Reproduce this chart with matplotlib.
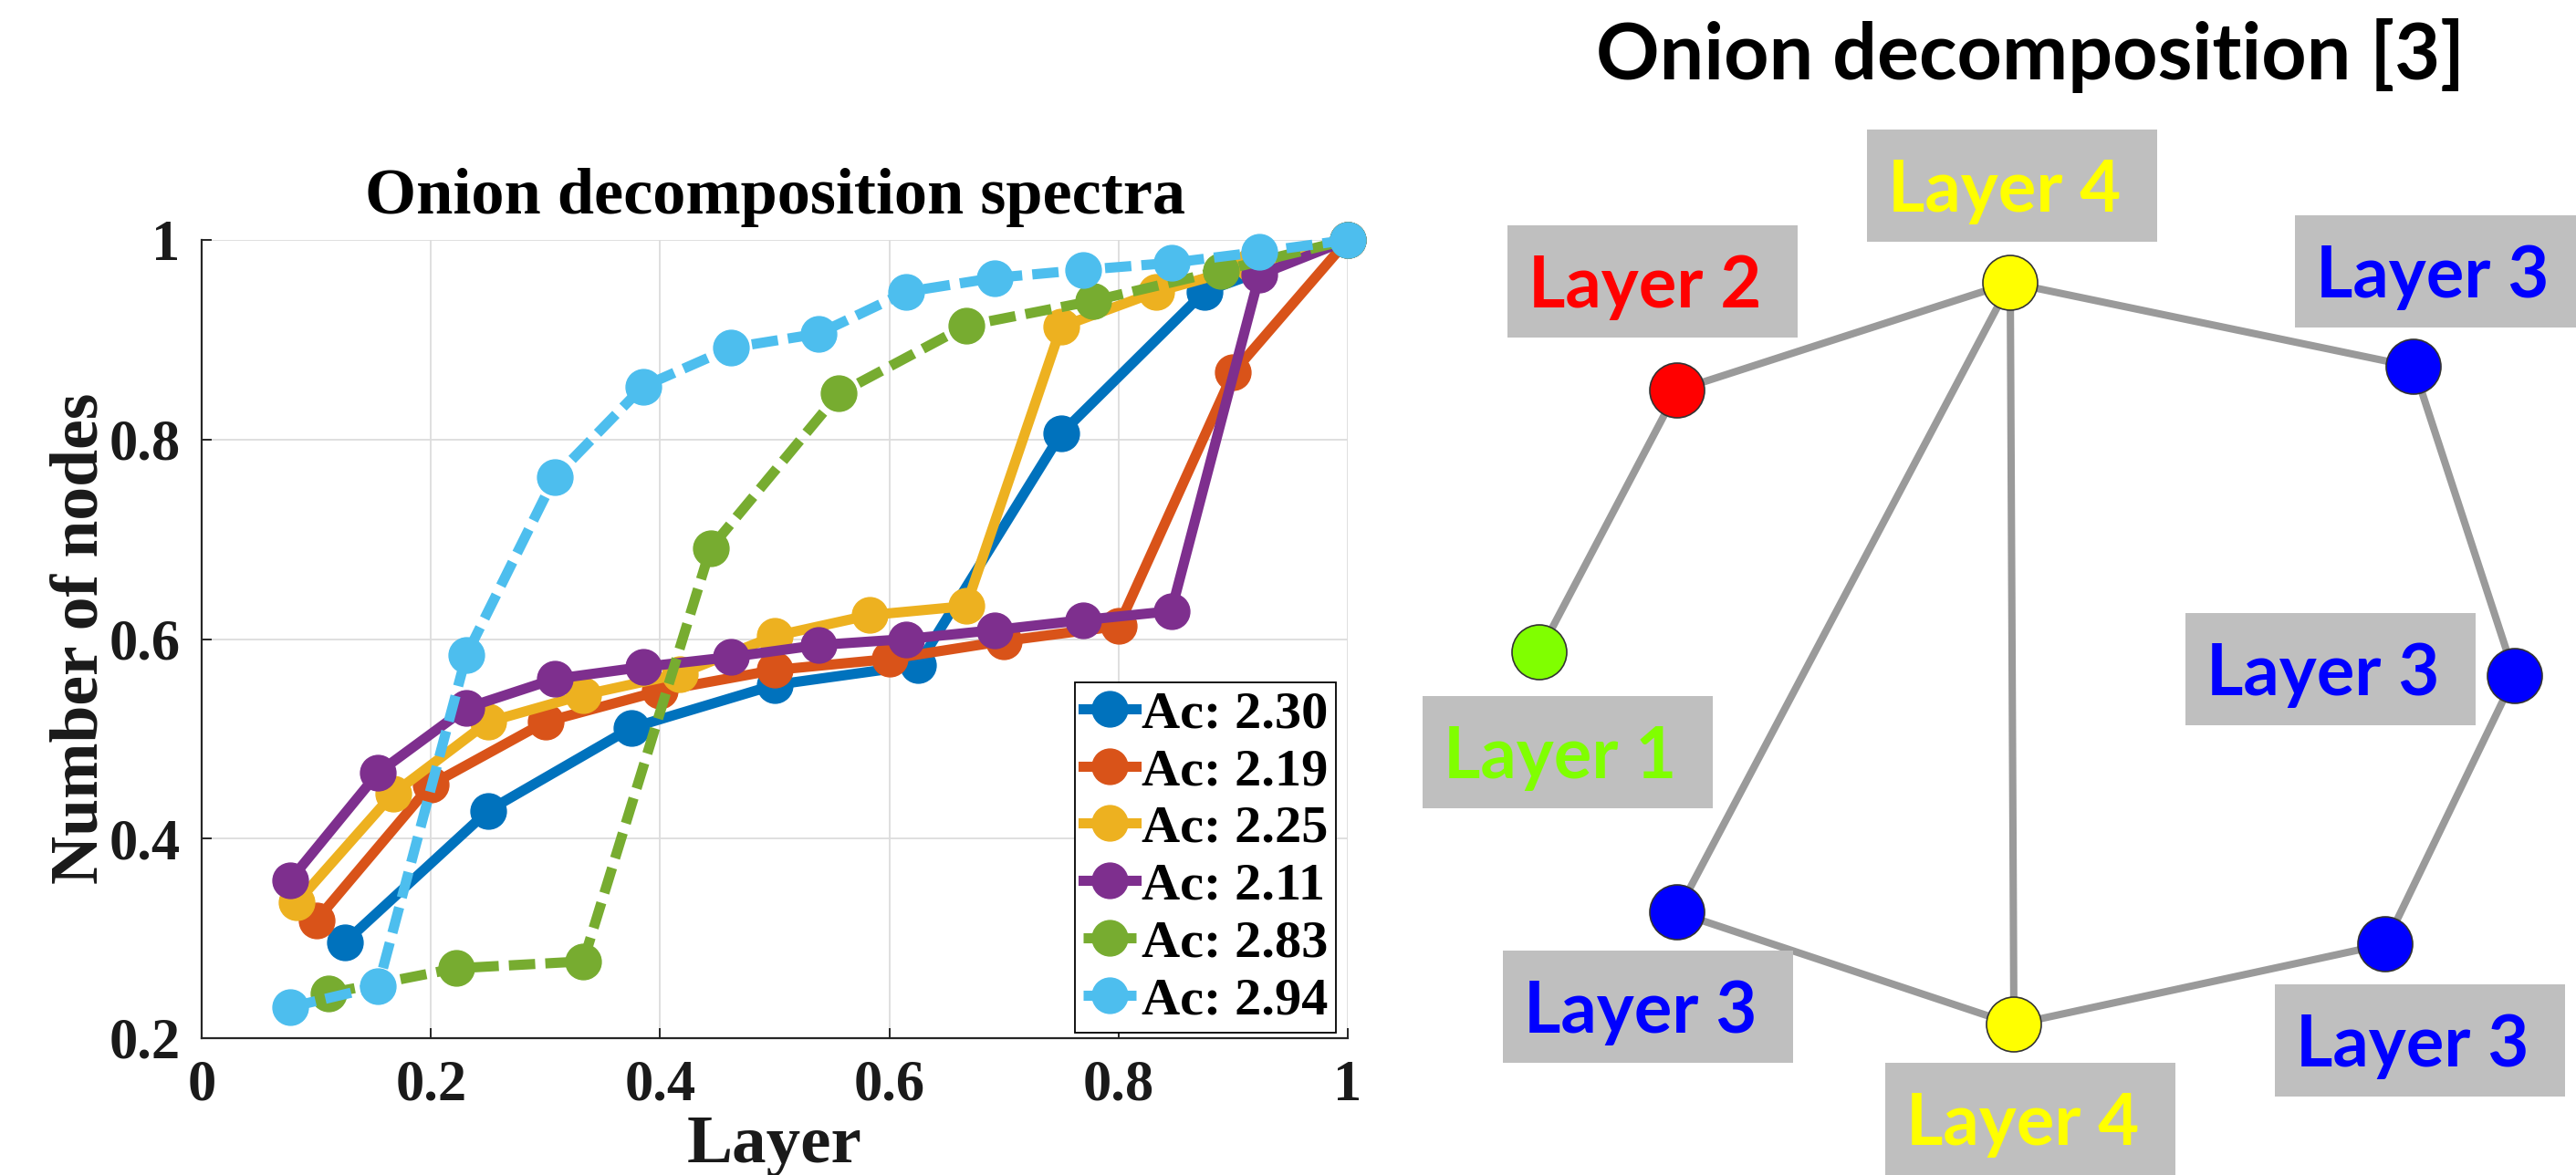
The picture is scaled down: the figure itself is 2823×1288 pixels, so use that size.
import matplotlib.pyplot as plt
from matplotlib.patches import Circle, Rectangle

W, H = 2823, 1288

# onion decomposition spectra (normalised layer vs. cumulative fraction of nodes)
series_labels = ['Ac: 2.30', 'Ac: 2.19', 'Ac: 2.25', 'Ac: 2.11', 'Ac: 2.83', 'Ac: 2.94']

layer_230 = [0.125, 0.25, 0.375, 0.5, 0.625, 0.75, 0.875, 1.0]
nodes_230 = [0.296, 0.428, 0.511, 0.554, 0.574, 0.806, 0.948, 1.0]

layer_219 = [0.1, 0.2, 0.3, 0.4, 0.5, 0.6, 0.7, 0.8, 0.9, 1.0]
nodes_219 = [0.318, 0.454, 0.517, 0.548, 0.569, 0.580, 0.598, 0.613, 0.867, 1.0]

layer_225 = [0.083, 0.167, 0.25, 0.333, 0.417, 0.5, 0.583, 0.667, 0.75, 0.833, 0.917, 1.0]
nodes_225 = [0.336, 0.445, 0.517, 0.544, 0.565, 0.603, 0.624, 0.633, 0.913, 0.948, 0.975, 1.0]

layer_211 = [0.077, 0.154, 0.231, 0.308, 0.385, 0.462, 0.538, 0.615, 0.692, 0.769, 0.846, 0.923, 1.0]
nodes_211 = [0.358, 0.466, 0.531, 0.560, 0.572, 0.582, 0.594, 0.600, 0.609, 0.619, 0.628, 0.965, 1.0]

layer_283 = [0.111, 0.222, 0.333, 0.444, 0.556, 0.667, 0.778, 0.889, 1.0]
nodes_283 = [0.245, 0.270, 0.277, 0.691, 0.846, 0.914, 0.939, 0.969, 1.0]

layer_294 = [0.077, 0.154, 0.231, 0.308, 0.385, 0.462, 0.538, 0.615, 0.692, 0.769, 0.846, 0.923, 1.0]
nodes_294 = [0.231, 0.252, 0.584, 0.762, 0.853, 0.892, 0.906, 0.948, 0.962, 0.970, 0.977, 0.988, 1.0]

x_ticks = [0, 0.2, 0.4, 0.6, 0.8, 1]
x_ticklabels = ['0', '0.2', '0.4', '0.6', '0.8', '1']
y_ticks = [0.2, 0.4, 0.6, 0.8, 1]
y_ticklabels = ['0.2', '0.4', '0.6', '0.8', '1']

# toy network: onion layer of each node and its edges
node_layer = [4, 2, 3, 1, 3, 3, 4, 3]
edges = [(0, 1), (1, 3), (0, 2), (0, 5), (0, 6), (2, 4), (4, 7), (7, 6), (5, 6)]

# layout in pixels (x right, y down)
node_xy = [(2203, 310), (1838, 428), (2645, 402), (1687, 715),
           (2756, 741), (1838, 1000), (2207, 1123), (2614, 1035)]
label_box = [(2046, 142), (1652, 247), (2515, 236), (1559, 763),
             (2395, 672), (1647, 1042), (2066, 1165), (2493, 1079)]
layer_color = {1: '#80ff00', 2: '#ff0000', 3: '#0000ff', 4: '#ffff00'}

serif = 'Liberation Serif'
sans = 'Lato'

fig = plt.figure(figsize=(W / 100, H / 100), dpi=100)

# ---- spectra axes ----
left, right, top, bottom = 221, 1477, 263, 1138
ax = fig.add_axes([left / W, 1 - bottom / H, (right - left) / W, (bottom - top) / H])

colors = ['#0072BD', '#D95319', '#EDB120', '#7E2F8E', '#77AC30', '#4DBEEE']
xs = [layer_230, layer_219, layer_225, layer_211, layer_283, layer_294]
ys = [nodes_230, nodes_219, nodes_225, nodes_211, nodes_283, nodes_294]
styles = ['-', '-', '-', '-', '--', '--']
for x, y, c, ls, lab in zip(xs, ys, colors, styles, series_labels):
    line, = ax.plot(x, y, ls, color=c, lw=8, marker='o', ms=28, label=lab,
                    clip_on=False)
    if ls == '--':
        line.set_dashes((2.6, 1.0))

ax.set_xlim(0, 1)
ax.set_ylim(0.2, 1)
ax.set_xticks(x_ticks)
ax.set_xticklabels(x_ticklabels)
ax.set_yticks(y_ticks)
ax.set_yticklabels(y_ticklabels)
ax.grid(True, color='#dcdcdc', lw=1.3)
ax.set_axisbelow(True)
for s in ['top', 'right']:
    ax.spines[s].set_visible(False)
for s in ['left', 'bottom']:
    ax.spines[s].set_color('#262626')
    ax.spines[s].set_linewidth(1.6)
ax.tick_params(direction='in', length=8, width=1.4, color='#262626',
               labelsize=45, pad=17)
for t in ax.get_xticklabels() + ax.get_yticklabels():
    t.set_fontfamily(serif)
    t.set_fontweight('bold')
    t.set_color('#1a1a1a')

ax.set_title('Onion decomposition spectra', fontsize=52, family=serif,
             weight='bold', pad=21)
ax.text(0.5, -(1274 - bottom) / (bottom - top), 'Layer', transform=ax.transAxes,
        ha='center', va='baseline', fontsize=54, family=serif, weight='bold',
        color='#1a1a1a')
fig.text(107 / W, 1 - 700 / H, 'Number of nodes', rotation=90, rotation_mode='anchor',
         ha='center', va='baseline', fontsize=53, family=serif, weight='bold',
         color='#1a1a1a')

leg = ax.legend(loc='lower right', bbox_to_anchor=(0.990, 0.007), borderaxespad=0,
                prop={'family': serif, 'weight': 'bold', 'size': 42},
                handlelength=1.0, handletextpad=0.1, labelspacing=0.17,
                borderpad=0.15, fancybox=False, framealpha=1, edgecolor='#000000')
leg.get_frame().set_linewidth(1.3)

# ---- network diagram ----
net = fig.add_axes([0, 0, 1, 1])
net.set_xlim(0, W)
net.set_ylim(H, 0)
net.set_axis_off()

net.text(2225, 87, 'Onion decomposition [3]', ha='center', va='baseline',
         fontsize=62, family=sans, weight='bold', color='black')

for a, b in edges:
    net.plot([node_xy[a][0], node_xy[b][0]], [node_xy[a][1], node_xy[b][1]],
             color='#9a9a9a', lw=5.8, solid_capstyle='butt', zorder=1)

for (x, y), k, (bx, by) in zip(node_xy, node_layer, label_box):
    net.add_patch(Circle((x, y), 30, fc=layer_color[k], ec='#333333', lw=1.2, zorder=3))
    net.add_patch(Rectangle((bx, by), 318, 123, color='#bfbfbf', lw=0, zorder=2))
    net.text(bx + 23, by + 90, f'Layer {k}', ha='left', va='baseline', fontsize=56,
             family=sans, weight='bold', color=layer_color[k], zorder=4)

fig.savefig('out.png', dpi=100)
